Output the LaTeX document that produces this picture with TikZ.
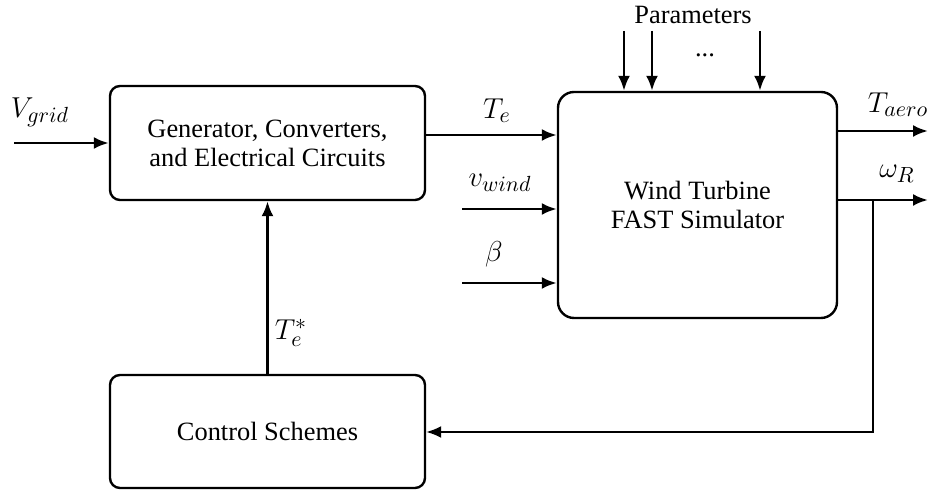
\documentclass[tikz,border=0pt]{standalone}
\usepackage{fontspec}
\setmainfont{Liberation Serif}
\usetikzlibrary{arrows.meta}
\begin{document}
\begin{tikzpicture}[x=0.5pt,y=-0.5pt,
  blk/.style={draw,line width=1.2pt,rounded corners=5pt,align=center,inner sep=0pt,
    font=\fontsize{13.2}{14.5}\selectfont},
  lbl/.style={inner sep=0pt,font=\fontsize{13.2}{14.5}\selectfont},
  mlbl/.style={inner sep=0pt,font=\fontsize{15.5}{17}\selectfont},
  sig/.style={line width=1.35pt,-{Latex[length=7.5pt,width=6pt]}},
  fb/.style={line width=1pt,-{Latex[length=7.5pt,width=6pt]}}]
\useasboundingbox (0,0) rectangle (928,490);
\node[blk,minimum width=157.5pt,minimum height=57pt] (gen) at (267.5,143)
  {Generator, Converters,\\and Electrical Circuits};
\node[blk,rounded corners=8pt,minimum width=139.5pt,minimum height=113pt] (wt) at (697.5,205)
  {Wind Turbine\\FAST Simulator};
\node[blk,minimum width=157.5pt,minimum height=56.5pt] (ctl) at (267.5,431.5)
  {Control Schemes};
% inputs to generator
\coordinate (vg) at (14,143);
\draw[sig] (vg) -- (gen.west |- vg);
\node[mlbl] (lvg) at (40,112) {$V_{grid}$};
% Te
\coordinate (te) at (gen.east |- 0,135);
\draw[sig] (te) -- (wt.west |- te);
\node[mlbl] (lte) at (497,111) {$T_e$};
% v_wind
\coordinate (vw) at (462,209);
\draw[sig] (vw) -- (wt.west |- vw);
\node[mlbl] (lvw) at (500,183) {$v_{wind}$};
% beta
\coordinate (bt) at (462,283);
\draw[sig] (bt) -- (wt.west |- bt);
\node[mlbl] (lbt) at (494,254) {$\beta$};
% parameters
\node[lbl] (par) at (693,15) {Parameters};
\coordinate (p1) at (624,31);
\coordinate (p2) at (652,31);
\coordinate (p3) at (760,31);
\draw[sig] (p1) -- (p1 |- wt.north);
\draw[sig] (p2) -- (p2 |- wt.north);
\draw[sig] (p3) -- (p3 |- wt.north);
\node[lbl] (dots) at (705,55) {...};
% outputs
\coordinate (ta) at (928,131);
\draw[sig] (wt.east |- ta) -- (ta);
\node[mlbl] (lta) at (898,105) {$T_{aero}$};
\coordinate (wr) at (928,200);
\draw[sig] (wt.east |- wr) -- (wr);
\node[mlbl] (lwr) at (897,174) {$\omega_R$};
% feedback
\coordinate (br) at (873,200);
\coordinate (bc) at (873,432);
\draw[fb] (br) -- (bc) -- (ctl.east |- bc);
% Te*
\draw[sig] (ctl.north) -- (gen.south);
\node[mlbl] (lts) at (291,333) {$T_e^*$};
\end{tikzpicture}
\end{document}
